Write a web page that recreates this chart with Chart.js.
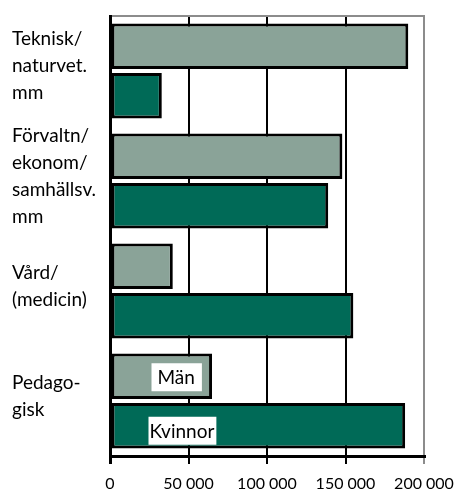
<!DOCTYPE html>
<html>
<head>
<meta charset="utf-8">
<script src="https://cdn.jsdelivr.net/npm/chart.js@4"></script>
<style>
  html, body { margin: 0; padding: 0; background: #fff; }
  #wrap { width: 454px; height: 490px; position: relative; }
</style>
</head>
<body>
<div id="wrap"><canvas id="c" width="454" height="490"></canvas></div>
<script>
const categories = [
  ["Teknisk/", "naturvet.", "mm"],
  ["Förvaltn/", "ekonom/", "samhällsv.", "mm"],
  ["Vård/", "(medicin)"],
  ["Pedago-", "gisk"]
];
const seriesNames = ["Män", "Kvinnor"];
const manValues = [190000, 148000, 40000, 65000];
const kvinnorValues = [33000, 139000, 155000, 188000];
const tickValues = [0, 50000, 100000, 150000, 200000];
const tickLabels = ["0", "50 000", "100 000", "150 000", "200 000"];

const FONT = "Lato, 'Open Sans', sans-serif";

const inBarLabels = {
  id: 'inBarLabels',
  afterDatasetsDraw(chart) {
    const ctx = chart.ctx;
    const cfg = [
      { offset: 40, padL: 6, padR: 7, dy: 1 },
      { offset: 37, padL: 1, padR: 2, dy: 5 }
    ];
    chart.data.datasets.forEach((ds, i) => {
      const meta = chart.getDatasetMeta(i);
      const el = meta.data[meta.data.length - 1];
      if (!el) return;
      ctx.save();
      ctx.font = "19px " + FONT;
      const w = ctx.measureText(ds.label).width;
      const c = cfg[i];
      const x0 = el.base + c.offset;
      const h = 28;
      const yc = el.y + c.dy;
      ctx.fillStyle = '#fff';
      ctx.fillRect(x0, yc - h / 2, w + c.padL + c.padR, h);
      ctx.fillStyle = '#000';
      ctx.textBaseline = 'middle';
      ctx.textAlign = 'left';
      ctx.fillText(ds.label, x0 + c.padL, yc + 1);
      ctx.restore();
    });
  }
};

new Chart(document.getElementById('c'), {
  type: 'bar',
  data: {
    labels: categories,
    datasets: [
      {
        label: seriesNames[0],
        data: manValues,
        backgroundColor: '#8AA398',
        borderColor: '#000',
        borderWidth: 3,
        borderSkipped: false,
        categoryPercentage: 0.9,
        barPercentage: 0.92
      },
      {
        label: seriesNames[1],
        data: kvinnorValues,
        backgroundColor: '#006A57',
        borderColor: '#000',
        borderWidth: 3,
        borderSkipped: false,
        categoryPercentage: 0.9,
        barPercentage: 0.92
      }
    ]
  },
  options: {
    indexAxis: 'y',
    responsive: false,
    animation: false,
    devicePixelRatio: 1,
    layout: { padding: { left: 12, top: 16, right: 30, bottom: 0 } },
    plugins: { legend: { display: false }, tooltip: { enabled: false } },
    scales: {
      x: {
        position: 'bottom',
        min: 0,
        max: 200000,
        afterBuildTicks(scale) { scale.ticks = tickValues.map(v => ({ value: v })); },
        afterFit(scale) { scale.height = 34; scale.paddingLeft = 0; scale.paddingRight = 0; },
        ticks: {
          color: '#000',
          font: { family: FONT, size: 16 },
          padding: 10,
          maxRotation: 0,
          autoSkip: false,
          callback: (v, i) => tickLabels[i]
        },
        grid: {
          color: (c) => c.index === 4 ? '#8c8c8c' : '#000',
          lineWidth: (c) => c.index === 0 ? 3 : 2,
          tickLength: 8,
          drawTicks: true
        },
        border: { display: true, color: '#000', width: 3 }
      },
      x2: {
        position: 'top',
        axis: 'x',
        min: 0,
        max: 200000,
        afterFit(scale) { scale.height = 0; scale.paddingLeft = 0; scale.paddingRight = 0; },
        ticks: { display: false },
        grid: { display: false, drawTicks: false },
        border: { display: true, color: '#8c8c8c', width: 2 }
      },
      y: {
        afterFit(scale) { scale.width = 98; scale.paddingTop = 0; scale.paddingBottom = 0; },
        ticks: {
          color: '#000',
          crossAlign: 'far',
          autoSkip: false,
          labelOffset: -5,
          font: { family: FONT, size: 19, lineHeight: 1.42 },
          padding: 0
        },
        grid: { display: false, drawTicks: false },
        border: { display: true, color: '#000', width: 3 }
      }
    }
  },
  plugins: [inBarLabels]
});
</script>
</body>
</html>
